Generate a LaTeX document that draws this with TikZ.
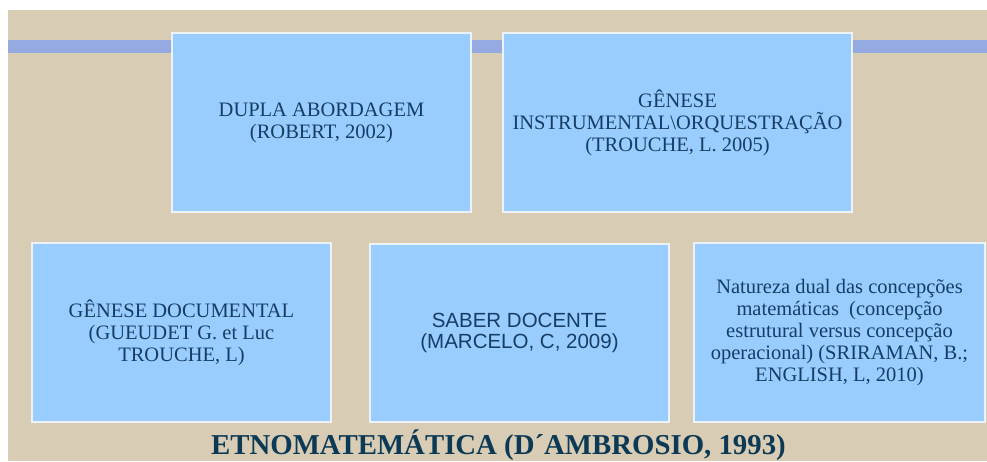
\documentclass[tikz,border=0pt]{standalone}
\usepackage{fontspec}
\setmainfont{Liberation Serif}
\newfontfamily\arialfont{Liberation Sans}
\definecolor{linen}{RGB}{216,204,180}
\definecolor{bandblue}{RGB}{150,170,226}
\definecolor{boxblue}{RGB}{153,204,255}
\definecolor{boxedge}{RGB}{236,242,248}
\definecolor{boxtext}{RGB}{22,62,100}
\definecolor{titletext}{RGB}{12,58,86}
\tikzset{
  infobox/.style={draw=boxedge, line width=2pt, fill=boxblue, align=center,
    inner sep=0pt, text=boxtext, font=\fontsize{20.5}{22}\selectfont},
}
\begin{document}
\begin{tikzpicture}[x=1pt,y=-1pt]
\useasboundingbox (0,0) rectangle (987,461);
\fill[white] (0,0) rectangle (987,461);
\fill[linen] (8,10) rectangle (987,461);
\fill[bandblue] (8,40) rectangle (987,53);
\node[infobox, minimum width=299pt, minimum height=179pt] (b1) at (321.5,122.5)
  {DUPLA ABORDAGEM\\(ROBERT, 2002)};
\node[infobox, minimum width=349pt, minimum height=179pt] (b2) at (677.5,122.5)
  {GÊNESE\\INSTRUMENTAL\textbackslash ORQUESTRAÇÃO\\(TROUCHE, L. 2005)};
\node[infobox, minimum width=299pt, minimum height=179pt] (b3) at (181.5,332.5)
  {GÊNESE DOCUMENTAL\\(GUEUDET G. et Luc\\TROUCHE, L)};
\node[infobox, minimum width=299pt, minimum height=178pt,
  font=\arialfont\fontsize{20.5}{21}\selectfont] (b4) at (519.5,333)
  {SABER DOCENTE\\(MARCELO, C, 2009)};
\node[infobox, minimum width=291pt, minimum height=179pt] (b5) at (839.5,332.5)
  {Natureza dual das concepções\\matemáticas\ \ (concepção\\estrutural versus concepção\\operacional) (SRIRAMAN, B.;\\ENGLISH, L, 2010)};
\node[anchor=base, inner sep=0pt, text=titletext, font=\bfseries\fontsize{28.8}{30}\selectfont]
  (title) at (498.5,454.5) {ETNOMATEMÁTICA (D´AMBROSIO, 1993)};
\end{tikzpicture}
\end{document}
